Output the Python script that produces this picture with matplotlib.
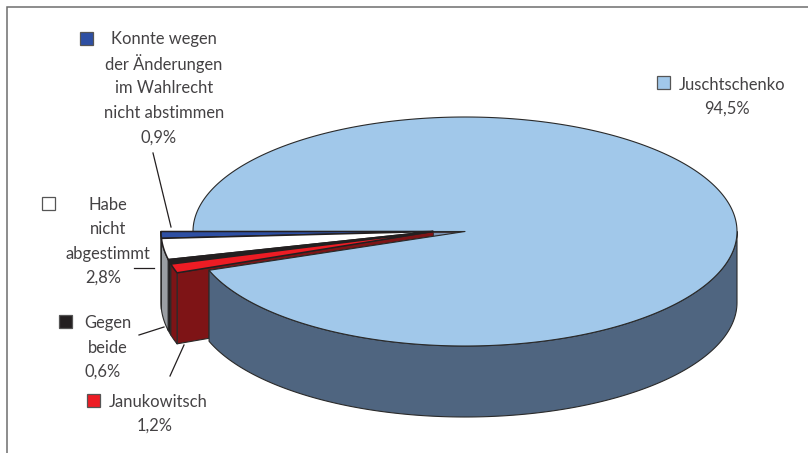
import numpy as np
import matplotlib
matplotlib.use("Agg")
import matplotlib.pyplot as plt
from matplotlib.patches import Polygon, Rectangle

plt.rcParams['font.family'] = ['Lato', 'DejaVu Sans']

# Data (order: counter-clockwise on screen from the left-hand edge)
names = ["Konnte wegen der Änderungen im Wahlrecht nicht abstimmen",
         "Habe nicht abgestimmt", "Gegen beide", "Janukowitsch", "Juschtschenko"]
values = [0.9, 2.8, 0.6, 1.2, 94.5]
top_colors = ["#2e4fa3", "#ffffff", "#231f20", "#ed1c24", "#a1c8ea"]
side_colors = ["#1f3570", "#9a9ea3", "#231f20", "#7e1416", "#4f6580"]

W, H = 808, 453
fig = plt.figure(figsize=(W / 100, H / 100), dpi=100)
ax = fig.add_axes([0, 0, 1, 1])
ax.set_xlim(0, W)
ax.set_ylim(H, 0)
ax.axis("off")

TXT = "#444244"
EDGE = "#2a2a2a"
RX, RY, DEPTH = 272, 114.5, 71
RY_EXPL = 122
CY = 231.5
CX_MAIN, CX_EXPL = 465, 433

# Frame
ax.plot([7, 7, W], [H, 7, 7], color="#6e6e6e", lw=1.1, solid_joinstyle="miter", zorder=1)

# Wedge angles from values
cum = np.cumsum([0] + values)
starts = 180 - cum[:-1] * 3.6
ends = 180 - cum[1:] * 3.6


def arc(cx, a0, a1, dy=0, n=200, ry=RY):
    t = np.radians(np.linspace(a0, a1, n))
    return np.column_stack([cx + RX * np.cos(t), CY + dy + ry * np.sin(t)])


def poly(pts, fc, z, lw=0.8, ec=EDGE):
    ax.add_patch(Polygon(pts, closed=True, fc=fc, ec=ec, lw=lw, joinstyle="round", zorder=z))


# Red slice's cut face (seen between slice and main body)
red_end = arc(CX_EXPL, ends[3], ends[3], n=1, ry=RY_EXPL)[0]
apex_e = np.array([CX_EXPL, CY])
apex_m = np.array([CX_MAIN, CY])
main_start = arc(CX_MAIN, starts[4], starts[4], n=1)[0]
poly([apex_e, red_end, red_end + [0, DEPTH], main_start + [0, DEPTH - 3], main_start, apex_m],
     side_colors[3], 2)
# Sliver of main body's cut at the centre
frac = (CX_MAIN - CX_EXPL) / (CX_MAIN - main_start[0])
poly([apex_m, apex_e, apex_m + (main_start - apex_m) * frac], "#7d95b5", 2.5, lw=0.5)

# Outer walls of the pulled-out slices
for i in range(4):
    a = arc(CX_EXPL, starts[i], ends[i], ry=RY_EXPL)
    b = arc(CX_EXPL, ends[i], starts[i], dy=DEPTH, ry=RY_EXPL)
    poly(np.vstack([a, b]), side_colors[i], 3)

# Main body wall (visible lower half)
a = arc(CX_MAIN, starts[4], 0)
b = arc(CX_MAIN, 0, starts[4], dy=DEPTH)
poly(np.vstack([a, b]), side_colors[4], 4)

# Top faces
poly(np.vstack([apex_m, arc(CX_MAIN, starts[4], ends[4], n=500)]), top_colors[4], 5)
for i in range(4):
    poly(np.vstack([apex_e, arc(CX_EXPL, starts[i], ends[i], ry=RY_EXPL)]), top_colors[i], 6,
         lw=1.1, ec="#231f20")

# Leader lines
for xs, ys in [([153, 171], [153, 227]), ([134, 154], [268, 268]),
               ([139, 164], [335, 327]), ([170, 184], [376, 345])]:
    ax.plot(xs, ys, color="#231f20", lw=0.9, zorder=7)

# Legend swatches
for (x, y), c in zip([(80, 32), (42, 197), (59, 315), (87, 394), (657, 76)], top_colors):
    ax.add_patch(Rectangle((x, y), 12.5, 12.5, fc=c, ec="#555555", lw=0.9, zorder=7))

# Labels
FS = 11.9
labels = [("Konnte wegen", 164, 39), ("der Änderungen", 164, 64), ("im Wahlrecht", 164, 88),
          ("nicht abstimmen", 164, 113), ("0,9%", 159, 138),
          ("Habe", 108, 205), ("nicht", 108, 229), ("abgestimmt", 108, 254), ("2,8%", 103, 278),
          ("Gegen", 108, 323), ("beide", 108, 348), ("0,6%", 103, 372),
          ("Janukowitsch", 158, 402), ("1,2%", 155, 426),
          ("Juschtschenko", 732, 85), ("94,5%", 727, 109)]
for s, x, y in labels:
    ax.text(x, y, s, ha="center", va="center", fontsize=FS, color=TXT, fontweight="normal", zorder=8)

fig.savefig("out.png", dpi=100)
